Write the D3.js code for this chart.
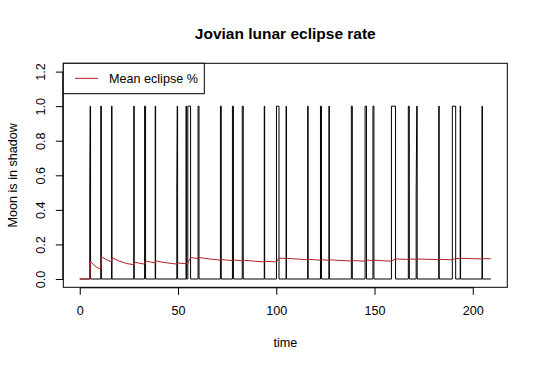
<!DOCTYPE html>
<html>
<head>
<meta charset="utf-8">
<script src="https://cdn.jsdelivr.net/npm/d3@7"></script>
<style>
  html, body { margin: 0; padding: 0; background: #fff; }
  svg { display: block; font-family: "Liberation Sans", Arial, sans-serif; }
</style>
</head>
<body>
<svg id="chart" width="540" height="366"></svg>
<script>
// ---- data ----
const titleText = "Jovian lunar eclipse rate";
const xLabel = "time";
const yLabel = "Moon is in shadow";
const legendLabel = "Mean eclipse %";
const xTicks = [0, 50, 100, 150, 200];
const yTicks = [0.0, 0.2, 0.4, 0.6, 0.8, 1.0, 1.2];
const yLimits = [0, 1.2];

// eclipse pulses (value 1 between start and end)
const pulseStart = [5.3, 10.7, 16.2, 27.5, 33.0, 38.4, 49.6, 54.1, 55.0, 60.2, 71.6, 77.7, 82.7, 93.9, 100.1, 105.0, 116.0, 122.5, 126.8, 138.2, 145.2, 149.2, 158.6, 167.2, 171.5, 182.7, 189.6, 193.6, 204.7];
const pulseEnd   = [5.5, 11.0, 16.4, 27.7, 33.5, 38.6, 49.8, 54.3, 56.4, 60.7, 72.0, 78.2, 83.2, 94.1, 101.4, 105.2, 116.2, 123.0, 127.0, 138.7, 145.9, 149.7, 160.7, 167.7, 171.7, 182.9, 191.3, 193.8, 204.9];
// pulses that start with a half-shadow step: [pulse index, time of the 0.5 step]
const halfStepPulse = [0, 6, 24];
const halfStepTime  = [5.1, 49.4, 171.2];
const seriesEnd = 209.2;

// running mean eclipse fraction (red line)
const meanTime  = [0, 5.2, 5.3, 5.5, 7, 8.5, 10.7, 11.0, 13.5, 16.2, 16.4, 20, 24, 27.5, 27.7, 30.5, 33.0, 33.5, 36, 38.4, 38.6, 44, 49.6, 49.8, 54.1, 54.3, 55.0, 56.4, 58, 60.2, 60.7, 66, 71.6, 72.0, 77.7, 78.2, 82.7, 83.2, 88, 93.9, 94.1, 100.1, 101.4, 105.0, 105.2, 110, 116.0, 116.2, 122.5, 123.0, 126.8, 127.0, 132, 138.2, 138.7, 145.2, 145.9, 149.2, 149.7, 154, 158.6, 160.7, 167.2, 167.7, 171.5, 171.7, 177, 182.7, 182.9, 189.6, 191.3, 193.6, 193.8, 199, 204.7, 204.9, 209.2];
const meanValue = [0, 0, 0.05, 0.102, 0.083, 0.069, 0.056, 0.130, 0.112, 0.099, 0.124, 0.104, 0.089, 0.083, 0.098, 0.091, 0.086, 0.104, 0.098, 0.094, 0.104, 0.094, 0.086, 0.093, 0.088, 0.093, 0.092, 0.124, 0.122, 0.118, 0.124, 0.116, 0.109, 0.113, 0.106, 0.110, 0.105, 0.109, 0.104, 0.099, 0.102, 0.099, 0.121, 0.118, 0.120, 0.116, 0.111, 0.114, 0.109, 0.112, 0.108, 0.111, 0.108, 0.104, 0.107, 0.103, 0.109, 0.107, 0.109, 0.106, 0.103, 0.116, 0.113, 0.116, 0.114, 0.116, 0.114, 0.112, 0.114, 0.111, 0.119, 0.118, 0.120, 0.118, 0.116, 0.118, 0.117];

// ---- build the shadow series from the pulses ----
const shadow = [[0, 0]];
pulseStart.forEach((s, i) => {
  const h = halfStepPulse.indexOf(i);
  if (h >= 0) {
    shadow.push([halfStepTime[h], 0], [halfStepTime[h], 0.5], [s, 1]);
  } else {
    shadow.push([s, 0], [s, 1]);
  }
  shadow.push([pulseEnd[i], 1], [pulseEnd[i], 0]);
});
shadow.push([seriesEnd, 0]);
const meanSeries = meanTime.map((t, i) => [t, meanValue[i]]);

// ---- layout ----
const box = { left: 63.3, right: 507.3, top: 63.3, bottom: 287.3 };
const fs = 12.6;
const svg = d3.select("#chart");

const xExt = [0, seriesEnd];
const xPad = (xExt[1] - xExt[0]) * 0.04;
const yPad = (yLimits[1] - yLimits[0]) * 0.04;
const x = d3.scaleLinear().domain([xExt[0] - xPad, xExt[1] + xPad]).range([box.left, box.right]);
const y = d3.scaleLinear().domain([yLimits[0] - yPad, yLimits[1] + yPad]).range([box.bottom, box.top]);

// lines
const line = d3.line().x(d => x(d[0])).y(d => y(d[1]));
svg.append("path").datum(shadow)
  .attr("d", line).attr("fill", "none").attr("stroke", "#000").attr("stroke-width", 1);
svg.append("path").datum(meanSeries)
  .attr("d", line).attr("fill", "none").attr("stroke", "#b22222").attr("stroke-width", 1);

// axes
const xAxis = d3.axisBottom(x).tickValues(xTicks).tickSize(7.5).tickPadding(11.5).tickFormat(d3.format("d"));
const gx = svg.append("g").attr("transform", `translate(0,${box.bottom})`).call(xAxis);
gx.select(".domain").attr("d", `M${x(xTicks[0])},0.5H${x(xTicks[xTicks.length-1])}`);
gx.selectAll("text").attr("font-size", fs).attr("font-family", "Liberation Sans, Arial, sans-serif").attr("fill", "#000");

const yAxis = d3.axisLeft(y).tickValues(yTicks).tickSize(7.5).tickFormat(d3.format(".1f"));
const gy = svg.append("g").attr("transform", `translate(${box.left},0)`).call(yAxis);
gy.select(".domain").attr("d", `M-0.5,${y(yTicks[0])}V${y(yTicks[yTicks.length-1])}`);
gy.selectAll("text")
  .attr("font-size", fs).attr("font-family", "Liberation Sans, Arial, sans-serif").attr("fill", "#000")
  .attr("text-anchor", "middle").attr("dy", null).attr("x", 0).attr("y", 0)
  .attr("transform", "translate(-18,0) rotate(-90)");

// box
svg.append("rect")
  .attr("x", box.left).attr("y", box.top)
  .attr("width", box.right - box.left).attr("height", box.bottom - box.top)
  .attr("fill", "none").attr("stroke", "#000").attr("stroke-width", 1);

// title & labels
svg.append("text").attr("x", (box.left + box.right) / 2).attr("y", 38.5)
  .attr("text-anchor", "middle").attr("font-weight", "bold").attr("font-size", 15.5)
  .text(titleText);
svg.append("text").attr("x", (box.left + box.right) / 2).attr("y", 346.5)
  .attr("text-anchor", "middle").attr("font-size", fs).text(xLabel);
svg.append("text")
  .attr("transform", `translate(16.5,${(box.top + box.bottom) / 2}) rotate(-90)`)
  .attr("text-anchor", "middle").attr("font-size", fs).text(yLabel);

// legend
const lg = svg.append("g");
lg.append("rect").attr("x", box.left).attr("y", box.top).attr("width", 141).attr("height", 30.4)
  .attr("fill", "#fff").attr("stroke", "#000").attr("stroke-width", 1);
lg.append("line").attr("x1", 75).attr("x2", 98).attr("y1", 78.3).attr("y2", 78.3)
  .attr("stroke", "#b22222").attr("stroke-width", 1);
lg.append("text").attr("x", 109).attr("y", 82.7).attr("font-size", fs).text(legendLabel);
</script>
</body>
</html>
